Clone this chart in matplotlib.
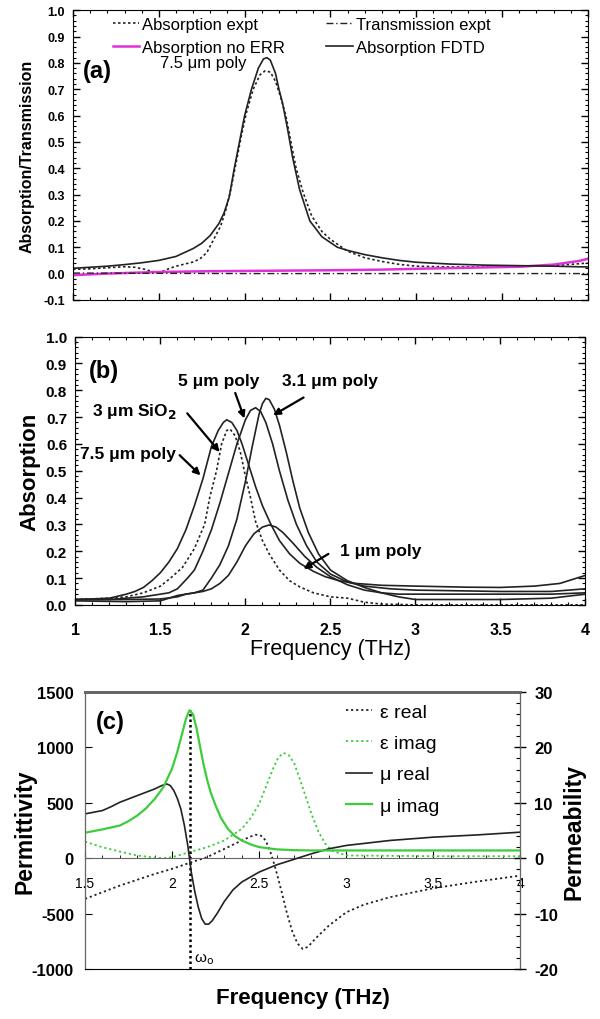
import numpy as np
import matplotlib
matplotlib.use("Agg")
import matplotlib.pyplot as plt
from matplotlib.ticker import MultipleLocator

plt.rcParams['font.family'] = ['Liberation Sans', 'DejaVu Sans']

# ---- panel (a): 7.5 um poly ----
a_fdtd_f = [1.0, 1.1, 1.2, 1.3, 1.4, 1.5, 1.6, 1.7, 1.75, 1.8, 1.85, 1.88, 1.91, 1.94, 1.97, 2.0, 2.04, 2.08, 2.11, 2.13, 2.15,
            2.18, 2.2, 2.22, 2.25, 2.28, 2.32, 2.38, 2.45, 2.54, 2.6, 2.7, 2.8, 2.9, 3.0, 3.2, 3.4, 3.6, 3.8, 4.0]
a_fdtd_v = [0.02, 0.024, 0.028, 0.034, 0.041, 0.05, 0.065, 0.095, 0.115, 0.145, 0.19, 0.23, 0.29, 0.4, 0.5, 0.6, 0.7, 0.78, 0.815, 0.82, 0.81,
            0.76, 0.7, 0.65, 0.55, 0.44, 0.32, 0.2, 0.14, 0.1, 0.088, 0.072, 0.06, 0.05, 0.043, 0.036, 0.032, 0.03, 0.028, 0.025]
a_expt_f = [1.0, 1.1, 1.2, 1.3, 1.36, 1.42, 1.46, 1.5, 1.53, 1.56, 1.6, 1.65, 1.7, 1.74, 1.78, 1.82, 1.86, 1.89, 1.92, 1.95, 1.98,
            2.01, 2.05, 2.09, 2.12, 2.15, 2.18, 2.21, 2.24, 2.27, 2.3, 2.34, 2.39, 2.45, 2.5, 2.6, 2.7, 2.8, 2.9, 3.0, 3.2, 3.5, 3.8, 4.0]
a_expt_v = [0.016, 0.018, 0.022, 0.026, 0.024, 0.016, 0.008, 0.005, 0.01, 0.019, 0.028, 0.036, 0.044, 0.056, 0.08, 0.13, 0.18, 0.24, 0.32, 0.42, 0.52,
            0.61, 0.7, 0.755, 0.77, 0.765, 0.73, 0.67, 0.6, 0.5, 0.4, 0.31, 0.22, 0.16, 0.13, 0.085, 0.06, 0.046, 0.035, 0.028, 0.025, 0.025, 0.03, 0.04]
a_trans_f = [1.0, 1.4, 2.0, 3.0, 4.0]
a_trans_v = [0.002, 0.001, 0.0, 0.0, 0.0]
a_noerr_f = [1.0, 1.2, 1.5, 1.8, 2.2, 2.5, 2.8, 3.06, 3.3, 3.6, 3.8, 3.95, 4.0]
a_noerr_v = [-0.006, 0.0, 0.006, 0.009, 0.011, 0.0125, 0.015, 0.019, 0.022, 0.026, 0.034, 0.048, 0.056]

# ---- panel (b): absorption for several samples ----
b_75_f = [1.0, 1.1, 1.2, 1.3, 1.35, 1.4, 1.45, 1.5, 1.55, 1.6, 1.65, 1.7, 1.75, 1.8, 1.84, 1.87, 1.89, 1.92, 1.95, 1.98, 2.02, 2.06,
          2.1, 2.15, 2.2, 2.26, 2.32, 2.4, 2.47, 2.55, 2.65, 2.8, 3.0, 3.3, 3.5, 3.7, 3.85, 3.95, 4.0]
b_75_v = [0.02, 0.022, 0.025, 0.04, 0.05, 0.065, 0.09, 0.12, 0.16, 0.21, 0.28, 0.37, 0.47, 0.59, 0.65, 0.68, 0.69, 0.68, 0.65, 0.6, 0.52, 0.44,
          0.37, 0.3, 0.24, 0.19, 0.155, 0.125, 0.105, 0.09, 0.08, 0.073, 0.07, 0.066, 0.065, 0.07, 0.08, 0.1, 0.11]
b_5_f = [1.0, 1.2, 1.4, 1.5, 1.55, 1.6, 1.63, 1.66, 1.7, 1.75, 1.8, 1.85, 1.9, 1.95, 2.0, 2.03, 2.06, 2.09, 2.12, 2.16, 2.2,
         2.25, 2.3, 2.36, 2.42, 2.5, 2.6, 2.7, 2.85, 3.0, 3.5, 3.8, 4.0]
b_5_v = [0.02, 0.02, 0.03, 0.04, 0.045, 0.06, 0.08, 0.1, 0.13, 0.2, 0.28, 0.38, 0.49, 0.6, 0.69, 0.725, 0.735, 0.72, 0.68, 0.6, 0.5,
         0.39, 0.3, 0.22, 0.16, 0.115, 0.085, 0.07, 0.06, 0.055, 0.05, 0.05, 0.06]
b_31_f = [1.0, 1.3, 1.5, 1.6, 1.65, 1.7, 1.75, 1.8, 1.85, 1.9, 1.95, 2.0, 2.04, 2.08, 2.1, 2.12, 2.14, 2.17, 2.2, 2.24, 2.28,
          2.32, 2.37, 2.43, 2.5, 2.6, 2.7, 2.8, 2.9, 3.0, 3.5, 3.8, 4.0]
b_31_v = [0.02, 0.02, 0.022, 0.03, 0.04, 0.045, 0.055, 0.1, 0.15, 0.22, 0.32, 0.46, 0.59, 0.71, 0.75, 0.77, 0.765, 0.73, 0.67, 0.57, 0.46,
          0.36, 0.27, 0.19, 0.13, 0.09, 0.065, 0.045, 0.03, 0.02, 0.02, 0.025, 0.04]
b_1_f = [1.0, 1.3, 1.5, 1.55, 1.6, 1.65, 1.7, 1.75, 1.8, 1.85, 1.9, 1.95, 2.0, 2.05, 2.1, 2.14, 2.18, 2.22, 2.28, 2.35, 2.42,
         2.5, 2.6, 2.7, 2.8, 2.9, 3.0, 3.5, 3.8, 4.0]
b_1_v = [0.015, 0.012, 0.015, 0.025, 0.035, 0.04, 0.045, 0.05, 0.06, 0.08, 0.11, 0.16, 0.22, 0.265, 0.29, 0.298, 0.29, 0.27, 0.23, 0.18, 0.14,
         0.105, 0.075, 0.055, 0.045, 0.04, 0.04, 0.04, 0.04, 0.045]
b_sio2_f = [1.0, 1.2, 1.3, 1.4, 1.5, 1.56, 1.63, 1.7, 1.76, 1.79, 1.83, 1.86, 1.89, 1.91, 1.94, 1.97, 2.0, 2.03, 2.06, 2.1, 2.14,
            2.2, 2.26, 2.32, 2.4, 2.5, 2.6, 2.7, 2.8, 3.0, 3.5, 4.0]
b_sio2_v = [0.02, 0.025, 0.03, 0.045, 0.07, 0.1, 0.14, 0.21, 0.3, 0.4, 0.5, 0.6, 0.65, 0.655, 0.63, 0.57, 0.48, 0.4, 0.31, 0.24, 0.19,
            0.13, 0.09, 0.067, 0.045, 0.03, 0.025, 0.01, 0.003, 0.0, 0.0, 0.0]

# ---- panel (c): effective medium parameters ----
mu_f = [1.5, 1.6, 1.7, 1.75, 1.8, 1.85, 1.9, 1.95, 2.0, 2.03, 2.06, 2.08, 2.1, 2.12, 2.14, 2.16, 2.18, 2.2, 2.22, 2.25, 2.28,
        2.32, 2.36, 2.4, 2.45, 2.5, 2.6, 2.7, 2.8, 3.0, 3.5, 4.0]
mu_imag = [4.6, 5.2, 5.9, 6.7, 7.7, 9.0, 10.7, 12.8, 16.2, 19.2, 22.8, 25.2, 26.7, 26.0, 23.5, 20.2, 17.0, 14.3, 12.0, 9.5, 7.3,
           5.3, 4.0, 3.2, 2.5, 2.0, 1.6, 1.45, 1.4, 1.4, 1.4, 1.4]
mr_f = [1.5, 1.6, 1.65, 1.7, 1.8, 1.9, 1.94, 1.97, 1.99, 2.01, 2.03, 2.05, 2.07, 2.09, 2.1, 2.11, 2.13, 2.15, 2.17, 2.19, 2.21,
        2.23, 2.26, 2.3, 2.35, 2.4, 2.5, 2.6, 2.7, 2.8, 2.9, 3.0, 3.25, 3.5, 3.75, 4.0]
mu_real = [8.0, 8.6, 9.3, 10.1, 11.3, 12.5, 13.1, 13.4, 13.1, 12.2, 10.8, 8.9, 6.0, 2.3, -0.1, -2.5, -6.0, -8.8, -10.9, -11.9, -11.9,
           -11.3, -9.9, -7.8, -5.7, -4.3, -2.5, -1.2, -0.2, 0.8, 1.7, 2.3, 3.2, 3.8, 4.2, 4.7]
er_f = [1.5, 1.7, 1.9, 2.0, 2.1, 2.2, 2.3, 2.4, 2.45, 2.48, 2.5, 2.52, 2.54, 2.56, 2.58, 2.6, 2.63, 2.66, 2.69, 2.72, 2.75,
        2.78, 2.82, 2.9, 3.0, 3.1, 3.25, 3.5, 3.75, 4.0]
eps_real = [-367, -247, -142, -96, -42, 9, 84, 160, 195, 211, 210, 195, 150, 75, -20, -130, -310, -500, -660, -770, -819,
            -800, -730, -608, -488, -420, -352, -271, -211, -157]
ei_f = [1.5, 1.6, 1.7, 1.8, 1.9, 1.95, 2.0, 2.1, 2.2, 2.3, 2.4, 2.45, 2.5, 2.55, 2.58, 2.61, 2.64, 2.67, 2.7, 2.73, 2.76,
        2.8, 2.84, 2.88, 2.92, 3.0, 3.5, 4.0]
eps_imag = [150, 99, 60, 24, 6, 0, 9, 54, 99, 160, 265, 360, 490, 690, 810, 910, 950, 930, 860, 730, 590,
            400, 240, 130, 65, 25, 18, 18]
omega0 = 2.1

GREEN = '#3ccc3c'
MAGENTA = '#e030d8'
DARK = '#222222'


def box_ticks(ax, xminor, yminor):
    ax.xaxis.set_minor_locator(MultipleLocator(xminor))
    ax.yaxis.set_minor_locator(MultipleLocator(yminor))
    ax.tick_params(which='both', direction='in', top=True, right=True)
    ax.tick_params(which='major', length=5, width=1)
    ax.tick_params(which='minor', length=2.5, width=0.8)


fig = plt.figure(figsize=(6, 10.2), dpi=100)

# (a)
ax = fig.add_axes([0.1217, 0.705, 0.858, 0.284])
ax.plot(a_expt_f, a_expt_v, ls=(0, (1.5, 1.5)), color=DARK, lw=1.2, label='Absorption expt')
ax.plot(a_noerr_f, a_noerr_v, color=MAGENTA, lw=1.8, label='Absorption no ERR')
ax.plot(a_trans_f, a_trans_v, ls=(0, (5, 2, 1, 2)), color=DARK, lw=1.0, label='Transmission expt')
ax.plot(a_fdtd_f, a_fdtd_v, color=DARK, lw=1.2, label='Absorption FDTD')
ax.set_xlim(1, 4)
ax.set_ylim(-0.1, 1.0)
ax.xaxis.set_major_locator(MultipleLocator(0.5))
ax.set_yticks(np.arange(-0.1, 1.01, 0.1))
ax.set_yticklabels([f'{v:.1f}' for v in np.arange(-0.1, 1.01, 0.1)], fontsize=9, fontweight='bold')
ax.set_xticklabels([])
box_ticks(ax, 0.1, 0.02)
ax.tick_params(axis='y', pad=6)
ax.set_ylabel('Absorption/Transmission', fontsize=11.5, fontweight='bold', labelpad=6)
ax.legend(ncol=2, loc='upper left', bbox_to_anchor=(0.048, 1.028), frameon=False, fontsize=12,
          handlelength=1.6, handletextpad=0.15, columnspacing=2.5, labelspacing=0.45)
ax.text(1.06, 0.77, '(a)', fontsize=17, fontweight='bold', va='center')
ax.text(1.757, 0.80, '7.5 μm poly', fontsize=12, ha='center', va='center')

# (b)
bx = fig.add_axes([0.1257, 0.406, 0.85, 0.263])
for f, v in [(b_75_f, b_75_v), (b_5_f, b_5_v), (b_31_f, b_31_v), (b_1_f, b_1_v)]:
    bx.plot(f, v, color=DARK, lw=1.2)
bx.plot(b_sio2_f, b_sio2_v, ls=(0, (1.5, 1.5)), color=DARK, lw=1.2)
bx.set_xlim(1, 4)
bx.set_ylim(0, 1.0)
bx.set_xticks([1, 1.5, 2, 2.5, 3, 3.5, 4])
bx.set_xticklabels(['1', '1.5', '2', '2.5', '3', '3.5', '4'], fontsize=11.5, fontweight='bold')
bx.set_yticks(np.arange(0, 1.01, 0.1))
bx.set_yticklabels([f'{v:.1f}' for v in np.arange(0, 1.01, 0.1)], fontsize=11, fontweight='bold')
box_ticks(bx, 0.1, 0.02)
bx.tick_params(axis='x', pad=12)
bx.tick_params(axis='y', pad=6)
bx.set_ylabel('Absorption', fontsize=16, fontweight='bold', labelpad=4)
bx.set_xlabel('Frequency (THz)', fontsize=15.5, labelpad=1)
bx.text(1.08, 0.875, '(b)', fontsize=17, fontweight='bold', va='center')

arrow = dict(arrowstyle='-|>', color='black', lw=1.6, mutation_scale=10, shrinkA=0, shrinkB=0)
ann_kw = dict(fontsize=12.5, fontweight='bold', ha='center', va='center')
bx.annotate('', xy=(1.994, 0.695), xytext=(1.94, 0.79), arrowprops=arrow)
bx.text(1.842, 0.835, '5 μm poly', **ann_kw)
bx.annotate('', xy=(2.163, 0.707), xytext=(2.342, 0.773), arrowprops=arrow)
bx.text(2.50, 0.835, '3.1 μm poly', **ann_kw)
bx.annotate('', xy=(1.848, 0.57), xytext=(1.658, 0.714), arrowprops=arrow)
bx.text(1.348, 0.725, '3 μm SiO$_\\mathbf{2}$', **ann_kw)
bx.annotate('', xy=(1.736, 0.483), xytext=(1.613, 0.558), arrowprops=arrow)
bx.text(1.31, 0.565, '7.5 μm poly', **ann_kw)
bx.annotate('', xy=(2.342, 0.134), xytext=(2.488, 0.19), arrowprops=arrow)
bx.text(2.796, 0.203, '1 μm poly', **ann_kw)

# (c)
cx = fig.add_axes([0.1417, 0.049, 0.7257, 0.2716])
cx2 = cx.twinx()
cx.plot(er_f, eps_real, ls=(0, (1.2, 1.6)), color=DARK, lw=1.3, label='ε real')
cx.plot(ei_f, eps_imag, ls=(0, (1.2, 1.6)), color=GREEN, lw=1.3, label='ε imag')
scale = 1500 / 30
cx2.plot(mr_f, mu_real, color=DARK, lw=1.2, label='μ real')
cx2.plot(mu_f, mu_imag, color=GREEN, lw=1.6, label='μ imag')
cx.vlines(omega0, -1000, max(mu_imag) * scale, colors='black', linestyles=(0, (1, 1.2)), lw=1.8)
cx.text(omega0 + 0.025, -910, 'ω$_\\mathrm{o}$', fontsize=11, va='center')
cx.set_xlim(1.5, 4)
cx.set_ylim(-1000, 1500)
cx2.set_ylim(-20, 30)
cx.set_yticks([-1000, -500, 0, 500, 1000, 1500])
cx.set_yticklabels(['-1000', '-500', '0', '500', '1000', '1500'], fontsize=12, fontweight='bold')
cx2.set_yticks([-20, -10, 0, 10, 20, 30])
cx2.set_yticklabels(['-20', '-10', '0', '10', '20', '30'], fontsize=12, fontweight='bold')
cx2.yaxis.set_minor_locator(MultipleLocator(2))
cx2.tick_params(axis='y', which='major', direction='inout', length=8, width=1, pad=6)
cx2.tick_params(axis='y', which='minor', direction='in', length=3, width=0.8)
cx.set_xticks([1.5, 2, 2.5, 3, 3.5, 4])
cx.set_xticklabels(['1.5', '2', '2.5', '3', '3.5', '4'], fontsize=12, fontweight='bold')
cx.xaxis.set_minor_locator(MultipleLocator(0.1))
cx.spines['bottom'].set_position(('data', 0))
cx.spines['bottom'].set_color('#666666')
cx.tick_params(axis='x', which='both', direction='in', pad=13)
cx.tick_params(axis='x', which='major', length=5)
cx.tick_params(axis='x', which='minor', length=2.5)
cx.tick_params(axis='y', direction='in', length=5, pad=8)
cx2.tick_params(axis='x', bottom=False)
for side in ['top', 'left', 'right']:
    cx2.spines[side].set_color('#666666')
cx2.spines['top'].set_linewidth(2)
cx.spines['top'].set_linewidth(2)
cx.spines['top'].set_color('#666666')
cx.set_ylabel('Permittivity', fontsize=16.5, fontweight='bold', labelpad=-3.5)
cx2.set_ylabel('Permeability', fontsize=16.5, fontweight='bold', labelpad=3)
cx.set_xlabel('Frequency (THz)', fontsize=16, fontweight='bold')
cx.xaxis.set_label_coords(0.5, -0.065)
cx.text(1.56, 1230, '(c)', fontsize=17, fontweight='bold', va='center')

h1, l1 = cx.get_legend_handles_labels()
h2, l2 = cx2.get_legend_handles_labels()
cx2.legend(h1 + h2, l1 + l2, loc='upper left', bbox_to_anchor=(0.56, 1.022), frameon=False,
           fontsize=14, handlelength=1.3, handletextpad=0.45, labelspacing=0.7)

fig.savefig('out.png', dpi=100)
